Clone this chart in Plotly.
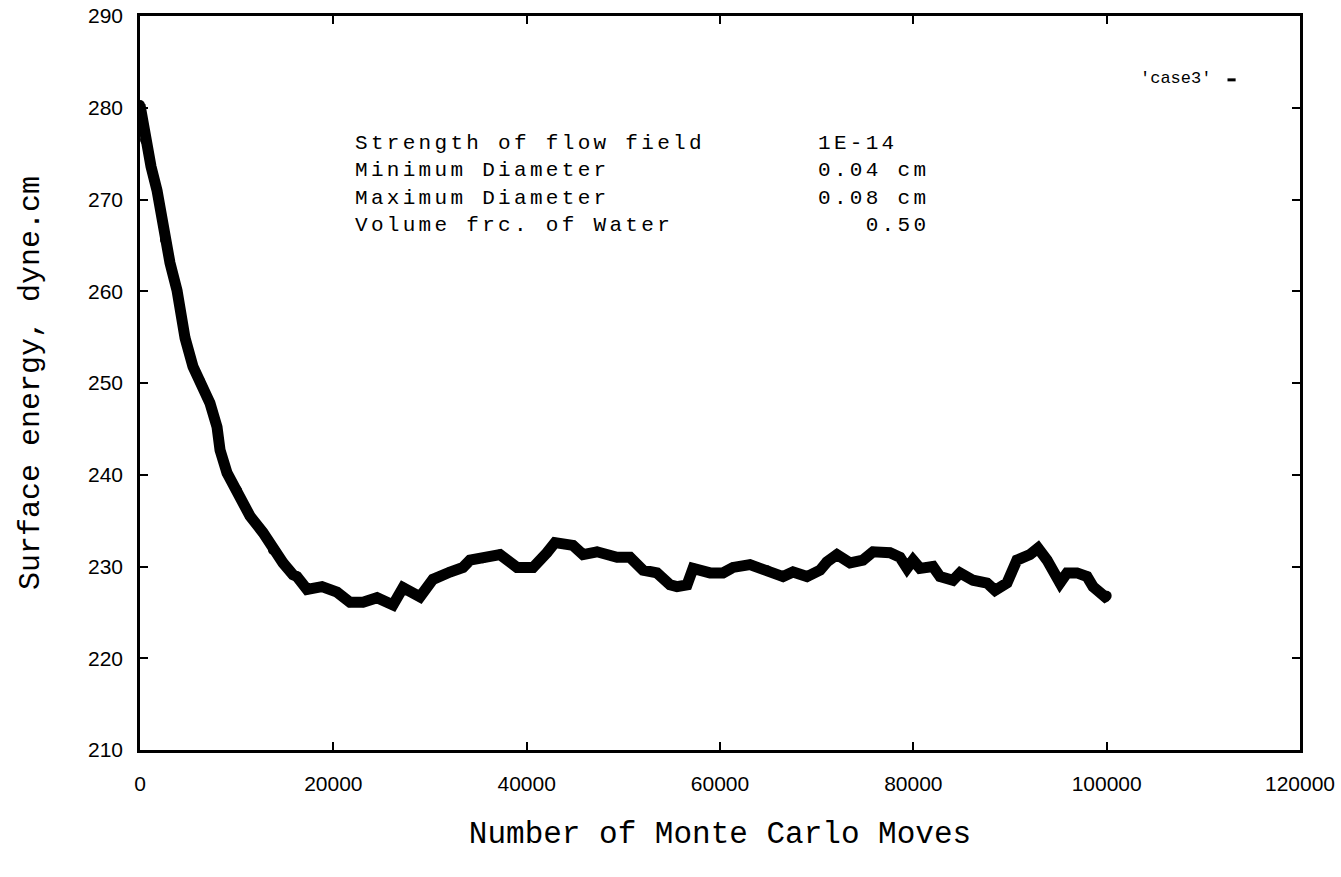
import plotly.graph_objects as go

# Monte Carlo run 'case3': surface energy versus number of moves
moves = [0, 300, 520, 1140, 1760, 2590, 3100, 3830, 4660, 5480, 6210, 7240,
         7970, 8280, 9000, 10030, 11380, 12720, 13760, 14790, 15830, 16240,
         17280, 18830, 20380, 21720, 23070, 24520, 26170, 27210, 28970, 30310,
         32070, 33410, 34140, 35480, 37240, 39000, 40660, 42100, 42930, 44790,
         45830, 47280, 49350, 50690, 52030, 53480, 54830, 55550, 56590, 57210,
         58970, 60310, 61350, 63100, 64860, 66520, 67550, 69000, 70350, 71070,
         72100, 73450, 74790, 75830, 77590, 78620, 79350, 79970, 80690, 82030,
         82760, 84100, 84830, 86170, 87620, 88450, 89690, 90720, 92070, 92900,
         93830, 95170, 95900, 96930, 97970, 98590, 99830, 100000]
energy = [280.3, 278.5, 276.5, 273.6, 271.0, 265.6, 263.1, 260.1, 254.9, 251.8,
          250.2, 247.8, 245.2, 242.7, 240.2, 238.3, 235.5, 233.7, 231.8, 230.4,
          229.1, 228.9, 227.5, 227.8, 227.2, 226.1, 226.1, 226.6, 225.8, 227.7,
          226.7, 228.6, 229.4, 229.9, 230.7, 230.9, 231.3, 229.9, 229.9, 231.5,
          232.6, 232.3, 231.3, 231.6, 231.0, 231.0, 229.6, 229.3, 228.0, 227.8,
          228.0, 229.8, 229.3, 229.3, 229.9, 230.2, 229.6, 228.9, 229.4, 228.9,
          229.6, 230.5, 231.3, 230.4, 230.7, 231.6, 231.5, 231.0, 229.8, 230.7,
          229.8, 230.0, 228.9, 228.5, 229.3, 228.5, 228.2, 227.4, 228.2, 230.7,
          231.3, 232.0, 230.7, 228.2, 229.3, 229.3, 228.9, 227.8, 226.7, 226.8]

x_ticks = [0, 20000, 40000, 60000, 80000, 100000, 120000]
y_ticks = [210, 220, 230, 240, 250, 260, 270, 280, 290]

param_names = ["Strength of flow field", "Minimum Diameter",
               "Maximum Diameter", "Volume frc. of Water"]
param_values = ["1E-14", "0.04 cm", "0.08 cm", "\u00a0\u00a0\u00a00.50"]

MONO = "Courier New, Liberation Mono, monospace"
SANS = "Arial, Liberation Sans, sans-serif"


def spaced(lines, spacing):
    """Join lines into one block of widely tracked monospace text."""
    return "<br>".join(
        f'<span style="letter-spacing:{spacing}px">{s}</span>' for s in lines)


fig = go.Figure()
fig.add_trace(go.Scatter(
    x=moves, y=energy, mode="lines+markers", name="'case3'",
    line=dict(color="black", width=11, shape="linear"),
    marker=dict(color="black", size=10, line=dict(width=0)),
    showlegend=False,
))

axis_common = dict(
    showgrid=False, zeroline=False, showline=True, linecolor="black",
    linewidth=2.5, mirror="ticks", ticks="inside", ticklen=8, tickwidth=2,
    tickcolor="black", tickfont=dict(family=SANS, size=21, color="black"),
    automargin=False,
)

fig.update_xaxes(range=[0, 120000], tickvals=x_ticks,
                 ticktext=[str(v) for v in x_ticks],
                 title=dict(text="Number of Monte Carlo Moves",
                            font=dict(family=MONO, size=31, color="black"),
                            standoff=28),
                 ticklabelstandoff=13, **axis_common)
fig.update_yaxes(range=[210, 290], tickvals=y_ticks,
                 ticktext=[str(v) for v in y_ticks],
                 title=dict(text="Surface energy, dyne.cm",
                            font=dict(family=MONO, size=30, color="black"),
                            standoff=40),
                 ticklabelstandoff=10, **axis_common)

# parameter block in the upper part of the plot
fig.add_annotation(x=22030, y=271.6, text=spaced(param_names, 3.3),
                   showarrow=False, xanchor="left", yanchor="middle",
                   align="left",
                   font=dict(family=MONO, size=21, color="black"))
fig.add_annotation(x=69900, y=271.6, text=spaced(param_values, 3.3),
                   showarrow=False, xanchor="left", yanchor="middle",
                   align="left",
                   font=dict(family=MONO, size=21, color="black"))

# key for the 'case3' series
fig.add_annotation(x=0.925, y=0.9155, xref="paper", yref="paper",
                   text="'case3'", showarrow=False, xanchor="right",
                   yanchor="middle",
                   font=dict(family=MONO, size=17, color="black"))
fig.add_shape(type="line", xref="paper", yref="paper",
              x0=0.9375, x1=0.9445, y0=0.913, y1=0.913,
              line=dict(color="black", width=3))

fig.update_layout(
    width=1341, height=877,
    margin=dict(l=140, r=41, t=16, b=127),
    paper_bgcolor="white", plot_bgcolor="white",
)

fig.write_html("out.html")
